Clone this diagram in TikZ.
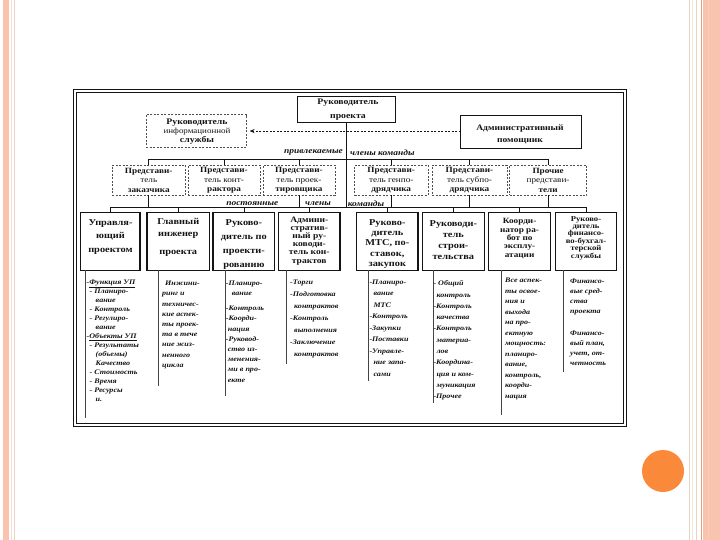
\documentclass[tikz,border=0pt]{standalone}
\usepackage{fontspec}
\setmainfont{Liberation Serif}[FakeStretch=1.15]
\usetikzlibrary{arrows.meta}
\definecolor{salmon}{HTML}{F9C4AE}
\definecolor{salmondk}{HTML}{EE9A78}
\definecolor{tanline}{HTML}{E6D3C3}
\definecolor{dot}{HTML}{FA8A3A}
\definecolor{ink}{HTML}{141414}
\begin{document}
\begin{tikzpicture}[x=1pt,y=-1pt,
  sbox/.style={draw=ink, line width=1.1pt, fill=white, inner sep=0pt, outer sep=0pt},
  dbox/.style={draw=ink!75, line width=0.7pt, dash pattern=on 2pt off 1.5pt, fill=white, inner sep=0pt, outer sep=0pt},
  btxt/.style={align=center, inner sep=0pt, text=ink},
  ltxt/.style={align=left, anchor=north west, inner sep=0pt, text=ink},
  lbl/.style={inner sep=0pt, text=ink, font=\bfseries\itshape\fontsize{8.2}{9}\selectfont},
  conn/.style={draw=ink, line width=0.7pt},
  lline/.style={draw=ink!80, line width=0.7pt}]
\useasboundingbox (0,0) rectangle (720,540);
\fill[white] (0,0) rectangle (720,540);
% page decoration
\fill[salmon] (3,0) rectangle (9,540);
\draw[salmon!60, line width=0.6pt] (11.5,0) -- (11.5,540);
\draw[tanline, line width=0.5pt] (14,0) -- (14,540);
\draw[tanline, line width=0.8pt] (689,0) -- (689,540);
\draw[tanline!60, line width=0.5pt] (692,0) -- (692,540);
\draw[tanline, line width=1pt] (696,0) -- (696,540);
\draw[salmondk, line width=0.8pt] (701.5,0) -- (701.5,540);
\fill[salmon] (702.5,0) rectangle (720,540);
\draw[salmondk!50, line width=0.5pt] (708,0) -- (708,540);
\fill[dot] (663,471) circle (21);
% frame
\draw[ink, line width=1.4pt] (73.5,89.5) rectangle (626.5,426.5);
\draw[ink, line width=0.6pt] (76.5,92.5) rectangle (623.5,423.5);

% top boxes
\node[sbox, minimum width=98.3pt, minimum height=25.8pt] (pm) at (346.65,109.3) {};
\node[btxt, font=\bfseries\fontsize{8.5}{13.3}\selectfont] (pmt) at (348,109.7) {Руководитель\\проекта};
\node[dbox, minimum width=100.6pt, minimum height=32.7pt] (info) at (196.3,131.05) {};
\node[btxt, font=\bfseries\fontsize{8.5}{9}\selectfont] (infot) at (197,131.3) {Руководитель\\{\mdseries\fontsize{7.8}{9}\selectfont информационной}\\службы};
\node[sbox, minimum width=121.2pt, minimum height=33.1pt] (adm) at (521.1,132.25) {};
\node[btxt, font=\bfseries\fontsize{8.3}{12}\selectfont] (admt) at (520,134.7) {Административный\\помощник};

% dashed representatives
\foreach \n/\cx/\w in {d1/148.75/73.5, d2/224/72, d3/299/72, d4/391.25/73.5, d5/469.5/75, d6/548.1/77.2}
  \node[dbox, minimum width=\w pt, minimum height=30.2pt] (\n) at (\cx,180.4) {};
\tikzset{dtxt/.style={btxt, font=\bfseries\fontsize{8}{9.2}\selectfont}}
\node[dtxt] (d1t) at (d1) {Представи-\\{\mdseries тель}\\заказчика};
\node[dtxt] (d2t) at (d2) {Представи-\\{\mdseries тель конт-}\\рактора};
\node[dtxt] (d3t) at (d3) {Представи-\\{\mdseries тель проек-}\\тировщика};
\node[dtxt] (d4t) at (d4) {Представи-\\{\mdseries тель генпо-}\\дрядчика};
\node[dtxt] (d5t) at (d5) {Представи-\\{\mdseries тель субпо-}\\дрядчика};
\node[dtxt] (d6t) at (d6) {Прочие\\{\mdseries представи-}\\тели};

% bottom boxes
\foreach \n/\cx/\w in {b1/110.15/59.7, b2/178.25/62.5, b3/243.9/61.8, b4/309.25/61.5, b5/387.35/61.3, b6/453.35/61.7, b7/519.6/61.8, b8/586/61.4}
  \node[sbox, minimum width=\w pt, minimum height=57.4pt] (\n) at (\cx,241.5) {};
\node[btxt, font=\bfseries\fontsize{9}{13.3}\selectfont] (b1t) at (110.5,237) {Управля-\\ющий\\проектом};
\node[btxt, font=\bfseries\fontsize{9}{12.7}\selectfont] (b2t) at (178.25,237) {Главный\\инженер\\[4.6pt]проекта};
\node[btxt, font=\bfseries\fontsize{9}{13.9}\selectfont] (b3t) at (243.9,244.5) {Руково-\\дитель по\\проекти-\\рованию};
\node[btxt, font=\bfseries\fontsize{8.3}{8.2}\selectfont] (b4t) at (309.25,240.8) {Админи-\\стратив-\\ный ру-\\ководи-\\тель кон-\\трактов};
\node[btxt, font=\bfseries\fontsize{9}{10.25}\selectfont] (b5t) at (387.35,244) {Руково-\\дитель\\МТС, по-\\ставок,\\закупок};
\node[btxt, font=\bfseries\fontsize{9}{11.1}\selectfont] (b6t) at (453.35,240.3) {Руководи-\\тель\\строи-\\тельства};
\node[btxt, font=\bfseries\fontsize{8}{8.4}\selectfont] (b7t) at (519.6,238.6) {Коорди-\\натор ра-\\бот по\\эксплу-\\атации};
\node[btxt, font=\bfseries\fontsize{7.5}{6.9}\selectfont] (b8t) at (586,238.3) {Руково-\\дитель\\финансо-\\во-бухгал-\\терской\\службы};

% bus coordinates
\coordinate (ub) at (0,159);
\coordinate (lb) at (0,207);
% connectors
\draw[conn] (pm.south) -- (pm.south |- lb);
\draw[conn] (d1.north) -- (d1.north |- ub) -- (d6.north |- ub) -- (d6.north);
\foreach \n in {d2,d3,d4,d5} \draw[conn] (\n.north) -- (\n.north |- ub);
\draw[conn] (b1.north) -- (b1.north |- lb) -- (b8.north |- lb) -- (b8.north);
\foreach \n in {b2,b3,b4,b5,b6,b7} \draw[conn] (\n.north) -- (\n.north |- lb);
\foreach \n in {d1,d3,d4,d5,d6} \draw[conn] (\n.south) -- (\n.south |- lb);
\draw[conn, dash pattern=on 2pt off 1.5pt, -{Stealth[length=5pt,width=4pt]}, shorten >=3pt] (adm.west |- info.east) -- (info.east);

% labels
\node[lbl] (lab1) at (313.5,152.3) {привлекаемые};
\node[lbl] (lab2) at (382.3,152.3) {члены команды};
\node[lbl] (lab3) at (252.3,203.3) {постоянные};
\node[lbl] (lab4) at (318,203.3) {члены};
\node[lbl] (lab5) at (366,203.3) {команды};

% list lines
\foreach \n/\x/\ye in {1/85.5/418, 2/158.5/385.5, 3/225.5/396, 4/286.5/364, 5/368.5/381, 6/433/403, 7/501.3/415, 8/563.5/372}
{ \coordinate (le\n) at (\x,\ye);
  \draw[lline] (b\n.south -| le\n) -- (le\n); }

% lists
\tikzset{lf/.style={font=\bfseries\itshape\fontsize{7}{#1}\selectfont}}
\node[ltxt, lf=9] (l1) at (86.5,279.5) {-\underline{Функция УП}\\
\hspace*{3pt}- Планиро-\\
\hspace*{9pt}вание\\
\hspace*{3pt}- Контроль\\
\hspace*{3pt}- Регулиро-\\
\hspace*{9pt}вание\\
-\underline{Объекты УП}\\
\hspace*{3pt}- Результаты\\
\hspace*{9pt}(объемы)\\
\hspace*{9pt}Качество\\
\hspace*{3pt}- Стоимость\\
\hspace*{3pt}- Время\\
\hspace*{3pt}- Ресурсы\\
\hspace*{9pt}и.};
\node[ltxt, lf=10.2] (l2) at (162,281) {\hspace*{3pt}Инжини-\\ринг и\\техничес-\\кие аспек-\\ты проек-\\та в тече\\ние жиз-\\ненного\\цикла};
\node[ltxt, lf=10.2] (l3) at (225.7,280.5) {-Планиро-\\\hspace*{6pt}вание\\[5pt]-Контроль\\-Коорди-\\\hspace*{2pt}нация\\-Руковод-\\\hspace*{2pt}ство из-\\\hspace*{2pt}менения-\\\hspace*{2pt}ми в про-\\\hspace*{2pt}екте};
\node[ltxt, lf=12] (l4) at (290,279.5) {-Торги\\-Подготовка\\\hspace*{4pt}контрактов\\-Контроль\\\hspace*{4pt}выполнения\\-Заключение\\\hspace*{4pt}контрактов};
\node[ltxt, lf=11.5] (l5) at (369.3,279.5) {-Планиро-\\\hspace*{4pt}вание\\\hspace*{4pt}МТС\\-Контроль\\-Закупки\\-Поставки\\-Управле-\\\hspace*{4pt}ние запа-\\\hspace*{4pt}сами};
\node[ltxt, lf=11.3] (l6) at (433.3,280.5) {- Общий\\\hspace*{3pt}контроль\\-Контроль\\\hspace*{3pt}качества\\-Контроль\\\hspace*{3pt}материа-\\\hspace*{3pt}лов\\-Координа-\\\hspace*{3pt}ция и ком-\\\hspace*{3pt}муникация\\-Прочее};
\node[ltxt, lf=10.5] (l7) at (505,278) {Все аспек-\\ты освое-\\ния и\\выхода\\на про-\\ектную\\мощность:\\планиро-\\вание,\\контроль,\\коорди-\\нация};
\node[ltxt, lf=10.2] (l8) at (570,278.5) {Финансо-\\вые сред-\\ства\\проекта\\[11pt]Финансо-\\вый план,\\учет, от-\\четность};
\end{tikzpicture}
\end{document}
